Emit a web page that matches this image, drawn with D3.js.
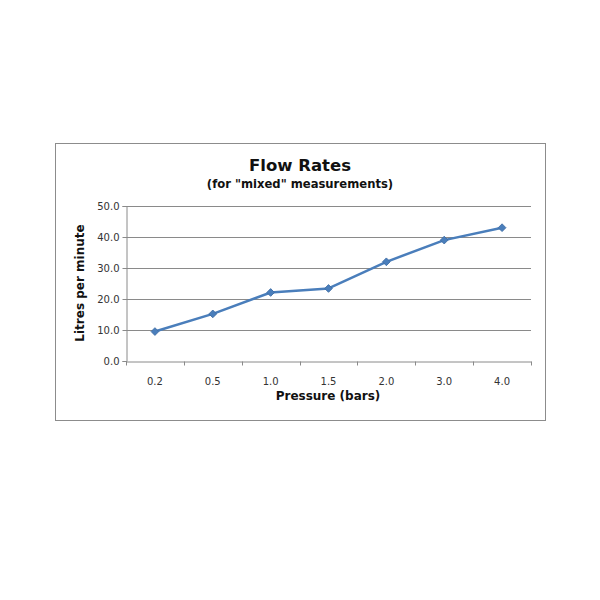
<!DOCTYPE html>
<html>
<head>
<meta charset="utf-8">
<script src="https://cdn.jsdelivr.net/npm/d3@7"></script>
<style>
  html, body { margin: 0; padding: 0; background: #fff; }
  svg { display: block; }
</style>
</head>
<body>
<svg id="chart" width="600" height="600"></svg>
<script>
const pressures = ['0.2', '0.5', '1.0', '1.5', '2.0', '3.0', '4.0']
const flowRates = [9.5, 15.2, 22.1, 23.4, 32.0, 39.0, 43.0]
const yTicks = [0, 10, 20, 30, 40, 50]

const svg = d3.select('#chart')
const font = 'DejaVu Sans, Verdana, sans-serif'

// outer chart frame
svg.append('rect')
  .attr('x', 55.5).attr('y', 143.5)
  .attr('width', 490).attr('height', 277)
  .attr('fill', '#fff')
  .attr('stroke', '#8c8c8c')
  .attr('stroke-width', 1)

const plot = { left: 126, right: 531, top: 206, bottom: 361 }

const x = d3.scaleBand()
  .domain(pressures)
  .range([plot.left, plot.right])

const y = d3.scaleLinear()
  .domain([0, 50])
  .range([plot.bottom, plot.top])

// gridlines
svg.append('g')
  .selectAll('line')
  .data(yTicks.filter((d) => d > 0))
  .join('line')
  .attr('x1', plot.left)
  .attr('x2', plot.right)
  .attr('y1', (d) => Math.round(y(d)) + 0.5)
  .attr('y2', (d) => Math.round(y(d)) + 0.5)
  .attr('stroke', '#8a8a8a')
  .attr('stroke-width', 1)

// y axis
const yAxis = svg.append('g')
  .attr('transform', `translate(${plot.left + 0.5},0)`)
  .call(d3.axisLeft(y).tickValues(yTicks).tickFormat(d3.format('.1f')).tickSize(4).tickPadding(3))
yAxis.select('.domain').attr('stroke', '#8a8a8a')
yAxis.selectAll('.tick line').attr('stroke', '#8a8a8a')
yAxis.selectAll('text')
  .attr('font-family', font)
  .attr('font-size', 10)
  .attr('fill', '#333')

// x axis, ticks at band edges
const xAxis = svg.append('g')
  .attr('transform', `translate(0,${Math.round(y(0)) + 0.5})`)
  .call(d3.axisBottom(x).tickSize(0).tickPadding(16))
xAxis.select('.domain').attr('stroke', '#8a8a8a')
xAxis.selectAll('text')
  .attr('font-family', font)
  .attr('font-size', 10)
  .attr('fill', '#333')
xAxis.selectAll('line.edge')
  .data(d3.range(pressures.length + 1))
  .join('line')
  .attr('class', 'edge')
  .attr('x1', (i) => Math.round(plot.left + i * x.step()) + 0.5)
  .attr('x2', (i) => Math.round(plot.left + i * x.step()) + 0.5)
  .attr('y1', 0)
  .attr('y2', 4)
  .attr('stroke', '#8a8a8a')

// series line
const line = d3.line()
  .x((d, i) => x(pressures[i]) + x.bandwidth() / 2)
  .y((d) => y(d))

svg.append('path')
  .datum(flowRates)
  .attr('d', line)
  .attr('fill', 'none')
  .attr('stroke', '#4a7ebb')
  .attr('stroke-width', 2.5)
  .attr('stroke-linejoin', 'round')

svg.append('g')
  .selectAll('path')
  .data(flowRates)
  .join('path')
  .attr('d', d3.symbol(d3.symbolSquare, 30))
  .attr('transform', (d, i) => `translate(${x(pressures[i]) + x.bandwidth() / 2},${y(d)}) rotate(45)`)
  .attr('fill', '#4a7ebb')
  .attr('stroke', '#3d6ba3')
  .attr('stroke-width', 0.8)

// titles
svg.append('text')
  .attr('x', 300).attr('y', 171)
  .attr('text-anchor', 'middle')
  .attr('font-family', font)
  .attr('font-weight', 'bold')
  .attr('font-size', 16.5)
  .attr('fill', '#111')
  .text('Flow Rates')

svg.append('text')
  .attr('x', 300).attr('y', 188)
  .attr('text-anchor', 'middle')
  .attr('font-family', font)
  .attr('font-weight', 'bold')
  .attr('font-size', 11.6)
  .attr('fill', '#111')
  .text('(for "mixed" measurements)')

svg.append('text')
  .attr('x', 328).attr('y', 400)
  .attr('text-anchor', 'middle')
  .attr('font-family', font)
  .attr('font-weight', 'bold')
  .attr('font-size', 12)
  .attr('fill', '#111')
  .text('Pressure (bars)')

svg.append('text')
  .attr('transform', 'translate(84,283) rotate(-90)')
  .attr('text-anchor', 'middle')
  .attr('font-family', font)
  .attr('font-weight', 'bold')
  .attr('font-size', 12)
  .attr('fill', '#111')
  .text('Litres per minute')
</script>
</body>
</html>
